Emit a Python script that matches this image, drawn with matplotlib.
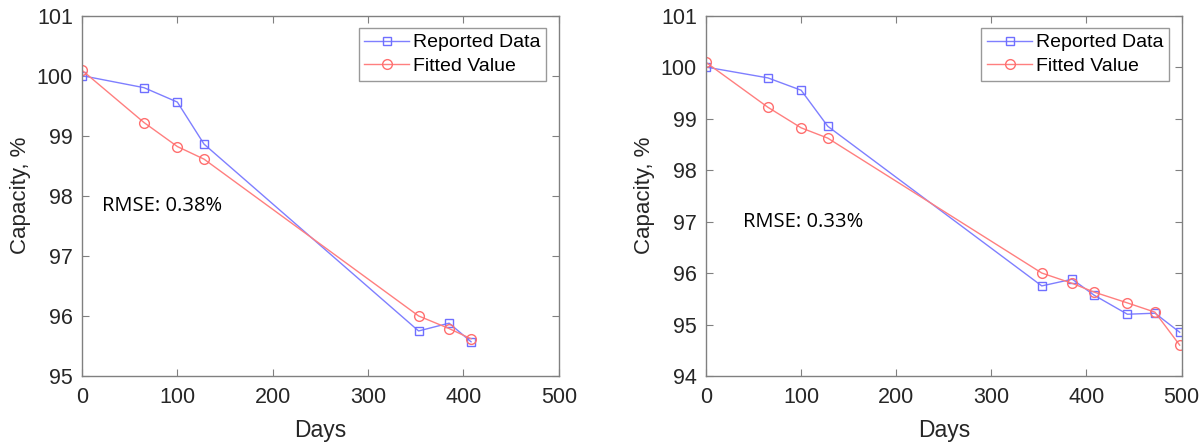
import matplotlib.pyplot as plt

# left panel data
days_a = [0, 65, 100, 128, 353, 385, 408]
reported_a = [100.0, 99.80, 99.56, 98.86, 95.75, 95.88, 95.57]
fitted_a = [100.09, 99.22, 98.82, 98.61, 96.0, 95.79, 95.62]

# right panel data
days_b = [0, 65, 100, 128, 353, 385, 408, 443, 472, 498]
reported_b = [100.0, 99.79, 99.55, 98.85, 95.75, 95.88, 95.57, 95.2, 95.22, 94.85]
fitted_b = [100.09, 99.22, 98.82, 98.62, 96.0, 95.8, 95.63, 95.42, 95.24, 94.6]

rmse_text = ['RMSE: 0.38%', 'RMSE: 0.33%']
ylims = [(95, 101), (94, 101)]
rmse_pos = [(21, 97.83), (39, 97.0)]

plt.rcParams['font.family'] = ['Liberation Sans', 'DejaVu Sans']

fig = plt.figure(figsize=(12.04, 4.45), dpi=100)
ax1 = fig.add_axes([0.0681, 0.155, 0.396, 0.810])
ax2 = fig.add_axes([0.5864, 0.155, 0.395, 0.810])

panels = [(ax1, days_a, reported_a, fitted_a), (ax2, days_b, reported_b, fitted_b)]
for i, (ax, d, rep, fit) in enumerate(panels):
    ax.plot(d, rep, '-s', color='#7f7fff', mfc='none', mec='#6f6fff',
            markersize=5.5, linewidth=1.0, label='Reported Data')
    ax.plot(d, fit, '-o', color='#ff7f7f', mfc='none', mec='#ff6f6f',
            markersize=7, linewidth=1.0, label='Fitted Value')
    ax.set_xlim(0, 500)
    ax.set_ylim(*ylims[i])
    ax.set_xticks(range(0, 501, 100))
    ax.set_yticks(range(ylims[i][0], ylims[i][1] + 1))
    ax.tick_params(direction='in', top=True, right=True, labelsize=15.5,
                   labelcolor='#262626', color='#808080', length=5, width=0.8)
    ax.tick_params(axis='x', pad=8)
    ax.tick_params(axis='y', pad=6.5)
    for s in ax.spines.values():
        s.set_color('#808080')
        s.set_linewidth(1.0)
    ax.set_xlabel('Days', fontsize=16.5, color='#262626', labelpad=8)
    ax.set_ylabel('Capacity, %', fontsize=16, color='#262626', labelpad=4)
    ax.text(rmse_pos[i][0], rmse_pos[i][1], rmse_text[i], fontsize=14.5,
            family=['Open Sans', 'DejaVu Sans'], va='center', ha='left')
    leg = ax.legend(loc='upper right', fontsize=14, frameon=True, fancybox=False,
                    edgecolor='#808080', borderpad=0.3, handlelength=2.3,
                    handletextpad=0.2, labelspacing=0.3, borderaxespad=0.64)
    leg.get_frame().set_linewidth(1.0)

fig.savefig('out.png', dpi=100)
